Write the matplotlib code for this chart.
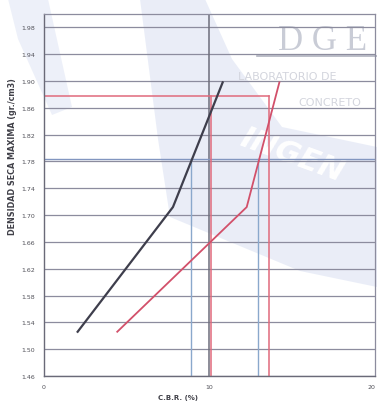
import matplotlib
matplotlib.use("Agg")
import matplotlib.pyplot as plt
import numpy as np
from matplotlib.patches import Polygon

# dry density at the three compaction points (g/cm3)
densidad = [1.526, 1.712, 1.898]
# C.B.R. (%) read for each curve at those densities
cbr_curva_1 = [2.06, 7.81, 10.81]
cbr_curva_2 = [4.45, 12.26, 14.23]

# maximum dry density and 95 % of it
mdd = 1.878
mdd_95 = 0.95 * mdd
# C.B.R. values read at 100 % and 95 % of maximum density
cbr_100 = [10.1, 13.6]
cbr_95 = [8.9, 12.95]

y_ticks = np.round(np.arange(1.46, 1.99, 0.04), 2)
x_ticks = [0, 10, 20]

W, H = 377, 410
fig = plt.figure(figsize=(W / 100, H / 100), dpi=100)
fig.patch.set_facecolor("white")
ax = fig.add_axes([43.5 / W, 1 - 377 / H, 331.5 / W, 362 / H])
ax.set_facecolor("none")


def px(points):
    return [(x / W, 1 - y / H) for x, y in points]


# faint lab watermark behind the chart
band_color = "#cdd6ee"
fig.add_artist(Polygon(px([(140, 0), (205, 0), (232, 60), (282, 128), (377, 148),
                           (377, 288), (300, 272), (170, 218), (158, 140)]),
                       closed=True, transform=fig.transFigure, facecolor=band_color,
                       edgecolor="none", alpha=0.42, zorder=-2))
fig.add_artist(Polygon(px([(8, 0), (48, 0), (72, 108), (52, 116), (18, 40)]),
                       closed=True, transform=fig.transFigure, facecolor=band_color,
                       edgecolor="none", alpha=0.35, zorder=-2))
fig.text(278 / W, 1 - 50 / H, "D G E", fontsize=25, family="Liberation Serif",
         color="#c9ccd6", zorder=-1)
fig.add_artist(plt.Line2D([257 / W, 1], [1 - 57 / H, 1 - 57 / H], transform=fig.transFigure,
                          color="#b0b3bf", lw=1.2, zorder=-1))
fig.text(238 / W, 1 - 80 / H, "LABORATORIO DE", fontsize=8, color="#d3d5dd", zorder=-1)
fig.text(298 / W, 1 - 106 / H, "CONCRETO", fontsize=8, color="#d3d5dd", zorder=-1)
fig.text(236 / W, 1 - 182 / H, "INGEN", fontsize=22, fontweight="bold", style="italic",
         color="white", rotation=-20, zorder=-1)

grid_color = "#8c8c9e"
for v in y_ticks:
    ax.axhline(v, color=grid_color, lw=0.9, zorder=1)
ax.axvline(10, color="#6e6e7c", lw=1.1, zorder=1)

# reference lines for maximum density and 95 % of it
ax.plot([0, cbr_100[1]], [mdd, mdd], color="#e06a7c", lw=1.1, zorder=2)
ax.axhline(mdd_95, color="#8296c0", lw=1.0, zorder=2)
for c in cbr_100:
    ax.plot([c, c], [1.46, mdd], color="#e06a7c", lw=1.1, zorder=2)
for c in cbr_95:
    ax.plot([c, c], [1.46, mdd_95], color="#8aa8cc", lw=1.0, zorder=2)

ax.plot(cbr_curva_1, densidad, color="#3e3e4c", lw=1.6, zorder=3)
ax.plot(cbr_curva_2, densidad, color="#d2506a", lw=1.3, zorder=3)

ax.set_xlim(0, 20)
ax.set_ylim(1.46, 2.0)
ax.set_xticks(x_ticks)
ax.set_yticks(y_ticks)
ax.set_yticklabels([f"{v:.2f}" for v in y_ticks])
ax.tick_params(length=0, labelsize=4.5, colors="#505058", pad=6)
ax.get_xticklabels()[-1].set_horizontalalignment("right")

for side in ["left", "bottom"]:
    ax.spines[side].set_color("#6a6a78")
    ax.spines[side].set_linewidth(1.0)
for side in ["top", "right"]:
    ax.spines[side].set_color(grid_color)
    ax.spines[side].set_linewidth(0.9)

ax.text(-0.095, 0.61, "DENSIDAD SECA MAXIMA (gr./cm3)", transform=ax.transAxes,
        rotation=90, ha="center", va="center", fontsize=5.8, fontweight="bold",
        color="#404048")
ax.text(0.406, -0.058, "C.B.R. (%)", transform=ax.transAxes, ha="center", va="center",
        fontsize=5, fontweight="bold", color="#404048")

fig.savefig("out.png", dpi=100)
